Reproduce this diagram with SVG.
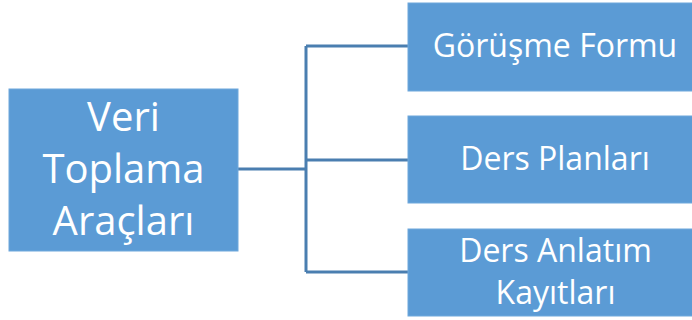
<svg xmlns="http://www.w3.org/2000/svg" width="692" height="320" viewBox="0 0 692 320">
<style>
.box{fill:#5B9BD5;stroke:#6FA8DC;stroke-width:1}
.t{fill:#fff;font-family:"Open Sans","Liberation Sans",sans-serif;text-anchor:middle}
.big{font-size:40px}
.sm{font-size:32px}
.conn{fill:none;stroke:#4A7EB0;stroke-width:3}
</style>
<rect width="692" height="320" fill="#fff"/>
<g id="connectors">
<path class="conn" d="M238 169 H306 M306 46 V272 M306 46 H408 M306 160 H408 M306 272 H408"/>
</g>
<g id="root">
<rect class="box" x="9" y="89" width="229" height="162"/>
<text class="t big" x="123.5" y="131">Veri</text>
<text class="t big" x="123.5" y="183">Toplama</text>
<text class="t big" x="123.5" y="235">Araçları</text>
</g>
<g id="n1">
<rect class="box" x="408" y="3" width="290" height="88"/>
<text class="t sm" x="555" y="57">Görüşme Formu</text>
</g>
<g id="n2">
<rect class="box" x="408" y="116" width="290" height="87"/>
<text class="t sm" x="555" y="170">Ders Planları</text>
</g>
<g id="n3">
<rect class="box" x="408" y="229" width="290" height="87"/>
<text class="t sm" x="555.5" y="262">Ders Anlatım</text>
<text class="t sm" x="555.5" y="304">Kayıtları</text>
</g>
</svg>
